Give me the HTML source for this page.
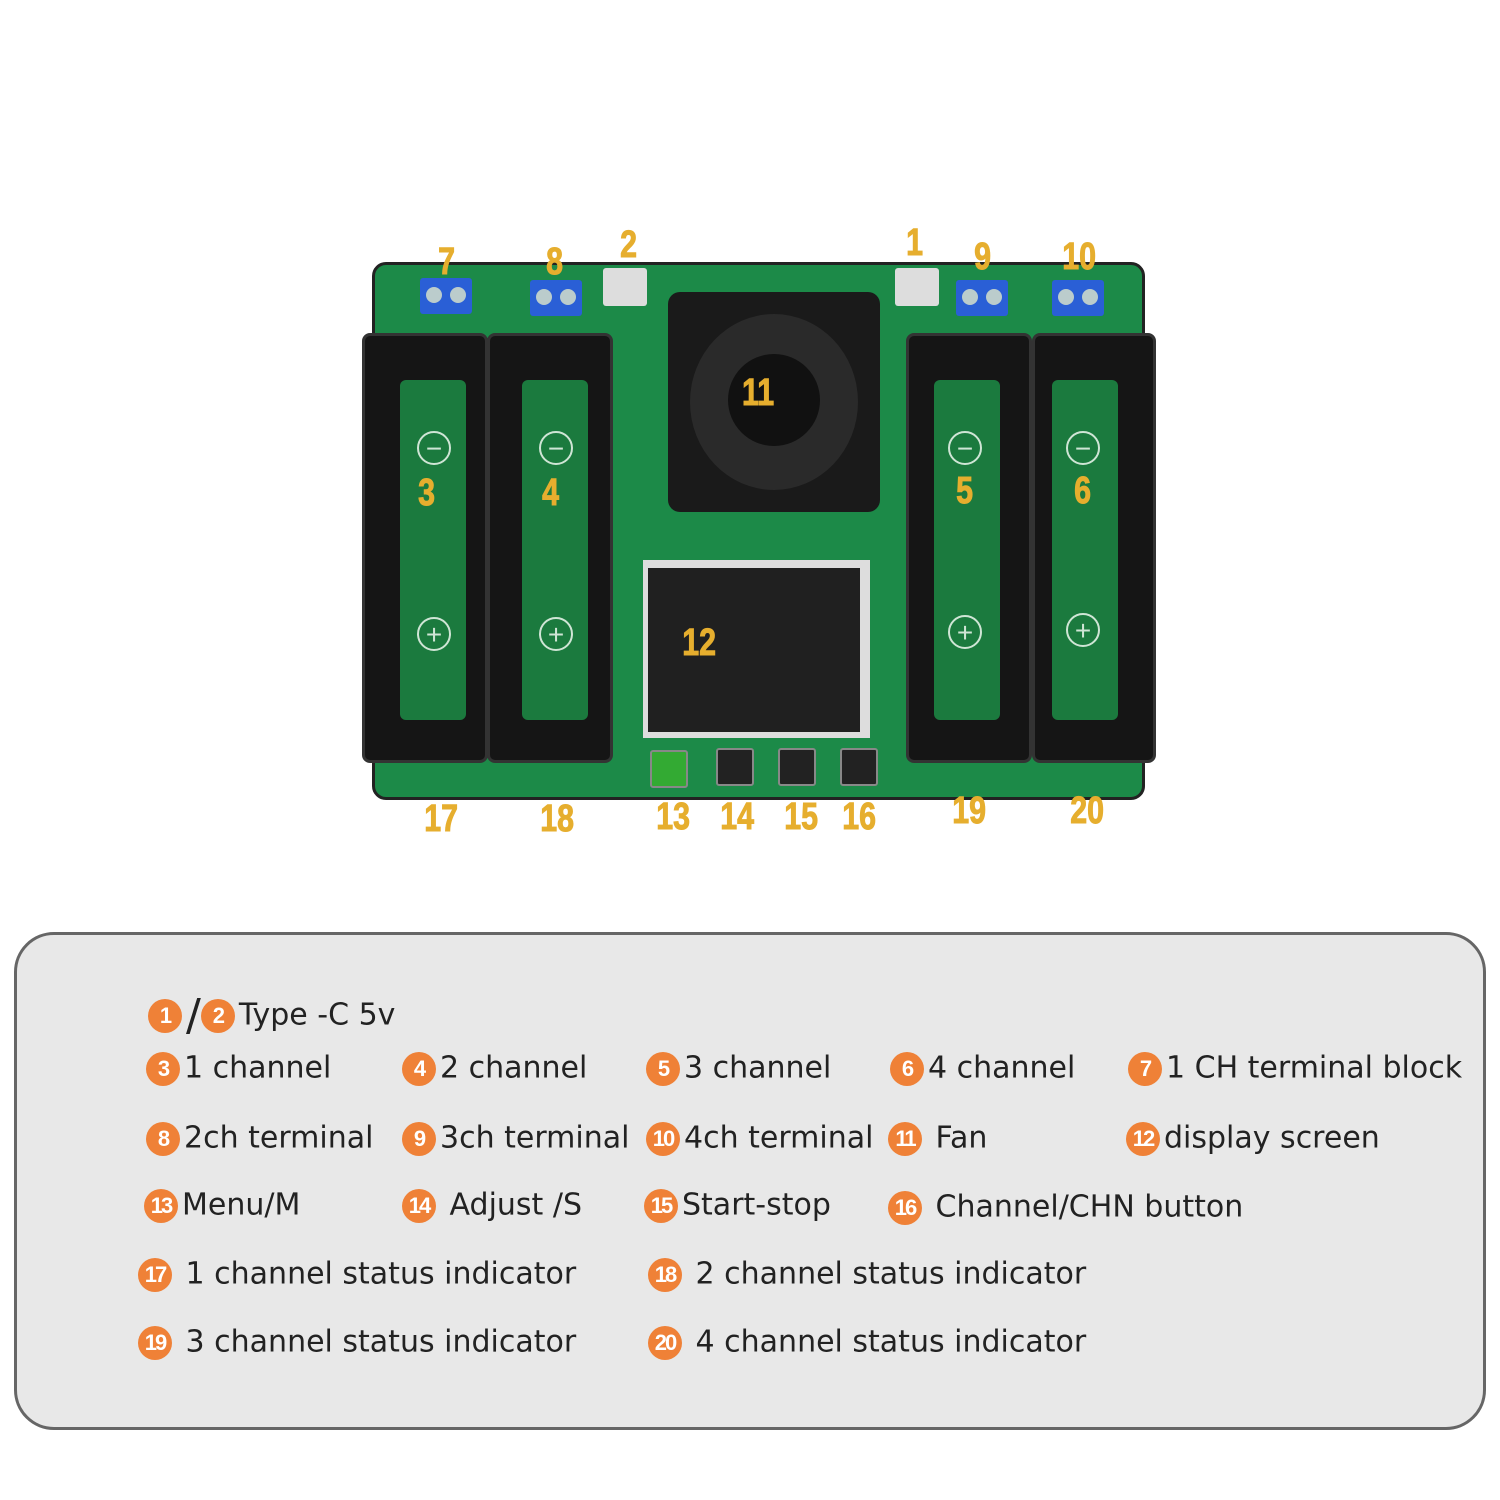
<!DOCTYPE html>
<html><head><meta charset="utf-8"><style>
body{margin:0;width:1500px;height:1500px;background:#fff;position:relative;overflow:hidden;font-family:"Liberation Sans",sans-serif}
.a{position:absolute}
.y{position:absolute;color:#e6ae2e;font-weight:bold;font-size:38px;transform:scaleX(.8);transform-origin:center;line-height:1;-webkit-text-stroke:1px #e6ae2e}
.h{position:absolute;background:#151515;border-radius:8px;border:3px solid #333}
.cell{position:absolute;background:#1b7a3e;border-radius:6px}
.ci{position:absolute;width:34px;height:34px;border-radius:50%;border:2px solid #cfe5d5;color:#cfe5d5;text-align:center;line-height:32px;font-size:28px;box-sizing:border-box}
.tb{position:absolute;width:52px;height:36px;background:#2a5fd6;border-radius:3px}
.tb i{position:absolute;top:9px;width:16px;height:16px;border-radius:50%;background:#bcc;}
.n{position:absolute;font-family:"DejaVu Sans",sans-serif;font-size:30px;color:#222;white-space:nowrap;line-height:1}
.o{display:inline-block;width:34px;height:34px;border-radius:50%;background:#ef8137;color:#fff;font-weight:bold;font-size:22px;text-align:center;line-height:34px;vertical-align:middle;margin-right:4px;letter-spacing:-2px;font-family:"Liberation Sans",sans-serif}
.btn{position:absolute;width:34px;height:34px;background:#222;border-radius:3px;border:2px solid #888}
</style></head><body>
<div class="a" style="left:372px;top:262px;width:773px;height:538px;background:#1c8a48;border-radius:14px;border:3px solid #222;box-sizing:border-box"></div>
<div class="tb" style="left:420px;top:278px"><i style="left:6px"></i><i style="left:30px"></i></div>
<div class="tb" style="left:530px;top:280px"><i style="left:6px"></i><i style="left:30px"></i></div>
<div class="tb" style="left:956px;top:280px"><i style="left:6px"></i><i style="left:30px"></i></div>
<div class="tb" style="left:1052px;top:280px"><i style="left:6px"></i><i style="left:30px"></i></div>
<div class="a" style="left:603px;top:268px;width:44px;height:38px;background:#ddd;border-radius:3px"></div>
<div class="a" style="left:895px;top:268px;width:44px;height:38px;background:#ddd;border-radius:3px"></div>
<div class="h" style="left:362px;top:333px;width:120px;height:424px"></div>
<div class="h" style="left:487px;top:333px;width:120px;height:424px"></div>
<div class="h" style="left:906px;top:333px;width:120px;height:424px"></div>
<div class="h" style="left:1032px;top:333px;width:118px;height:424px"></div>
<div class="cell" style="left:400px;top:380px;width:66px;height:340px"></div>
<div class="cell" style="left:522px;top:380px;width:66px;height:340px"></div>
<div class="cell" style="left:934px;top:380px;width:66px;height:340px"></div>
<div class="cell" style="left:1052px;top:380px;width:66px;height:340px"></div>
<div class="ci" style="left:417px;top:431px">−</div><div class="ci" style="left:539px;top:431px">−</div>
<div class="ci" style="left:948px;top:431px">−</div><div class="ci" style="left:1066px;top:431px">−</div>
<div class="ci" style="left:417px;top:617px">+</div><div class="ci" style="left:539px;top:617px">+</div>
<div class="ci" style="left:948px;top:615px">+</div><div class="ci" style="left:1066px;top:613px">+</div>
<div class="a" style="left:668px;top:292px;width:212px;height:220px;background:#1a1a1a;border-radius:12px"></div>
<div class="a" style="left:690px;top:314px;width:168px;height:176px;background:#2a2a2a;border-radius:50%"></div>
<div class="a" style="left:728px;top:354px;width:92px;height:92px;background:#111;border-radius:50%"></div>
<div class="a" style="left:643px;top:560px;width:227px;height:178px;background:#ddd"></div>
<div class="a" style="left:648px;top:568px;width:212px;height:164px;background:#202020"></div>
<div class="btn" style="left:650px;top:750px;background:#3a3"></div>
<div class="btn" style="left:716px;top:748px"></div>
<div class="btn" style="left:778px;top:748px"></div>
<div class="btn" style="left:840px;top:748px"></div>
<div class="y" style="left:436px;top:243px">7</div>
<div class="y" style="left:544px;top:243px">8</div>
<div class="y" style="left:618px;top:226px">2</div>
<div class="y" style="left:904px;top:224px">1</div>
<div class="y" style="left:972px;top:238px">9</div>
<div class="y" style="left:1058px;top:238px">10</div>
<div class="y" style="left:738px;top:374px">11</div>
<div class="y" style="left:416px;top:474px">3</div>
<div class="y" style="left:540px;top:474px">4</div>
<div class="y" style="left:954px;top:472px">5</div>
<div class="y" style="left:1072px;top:472px">6</div>
<div class="y" style="left:678px;top:624px">12</div>
<div class="y" style="left:420px;top:800px">17</div>
<div class="y" style="left:536px;top:800px">18</div>
<div class="y" style="left:652px;top:798px">13</div>
<div class="y" style="left:716px;top:798px">14</div>
<div class="y" style="left:780px;top:798px">15</div>
<div class="y" style="left:838px;top:798px">16</div>
<div class="y" style="left:948px;top:792px">19</div>
<div class="y" style="left:1066px;top:792px">20</div>
<div class="a" style="left:14px;top:932px;width:1472px;height:498px;background:#e8e8e8;border:3px solid #666;border-radius:40px;box-sizing:border-box"></div>
<div class="n" style="left:148px;top:994px"><span class="o">1</span><span style="font-size:44px;vertical-align:middle">/</span><span class="o">2</span>Type -C 5v</div>
<div class="n" style="left:146px;top:1052px"><span class="o">3</span>1 channel</div>
<div class="n" style="left:402px;top:1052px"><span class="o">4</span>2 channel</div>
<div class="n" style="left:646px;top:1052px"><span class="o">5</span>3 channel</div>
<div class="n" style="left:890px;top:1052px"><span class="o">6</span>4 channel</div>
<div class="n" style="left:1128px;top:1052px"><span class="o">7</span>1 CH terminal block</div>
<div class="n" style="left:146px;top:1122px"><span class="o">8</span>2ch terminal</div>
<div class="n" style="left:402px;top:1122px"><span class="o">9</span>3ch terminal</div>
<div class="n" style="left:646px;top:1122px"><span class="o">10</span>4ch terminal</div>
<div class="n" style="left:888px;top:1122px"><span class="o">11</span> Fan</div>
<div class="n" style="left:1126px;top:1122px"><span class="o">12</span>display screen</div>
<div class="n" style="left:144px;top:1189px"><span class="o">13</span>Menu/M</div>
<div class="n" style="left:402px;top:1189px"><span class="o">14</span> Adjust /S</div>
<div class="n" style="left:644px;top:1189px"><span class="o">15</span>Start-stop</div>
<div class="n" style="left:888px;top:1191px"><span class="o">16</span> Channel/CHN button</div>
<div class="n" style="left:138px;top:1258px"><span class="o">17</span> 1 channel status indicator</div>
<div class="n" style="left:648px;top:1258px"><span class="o">18</span> 2 channel status indicator</div>
<div class="n" style="left:138px;top:1326px"><span class="o">19</span> 3 channel status indicator</div>
<div class="n" style="left:648px;top:1326px"><span class="o">20</span> 4 channel status indicator</div>
</body></html>
